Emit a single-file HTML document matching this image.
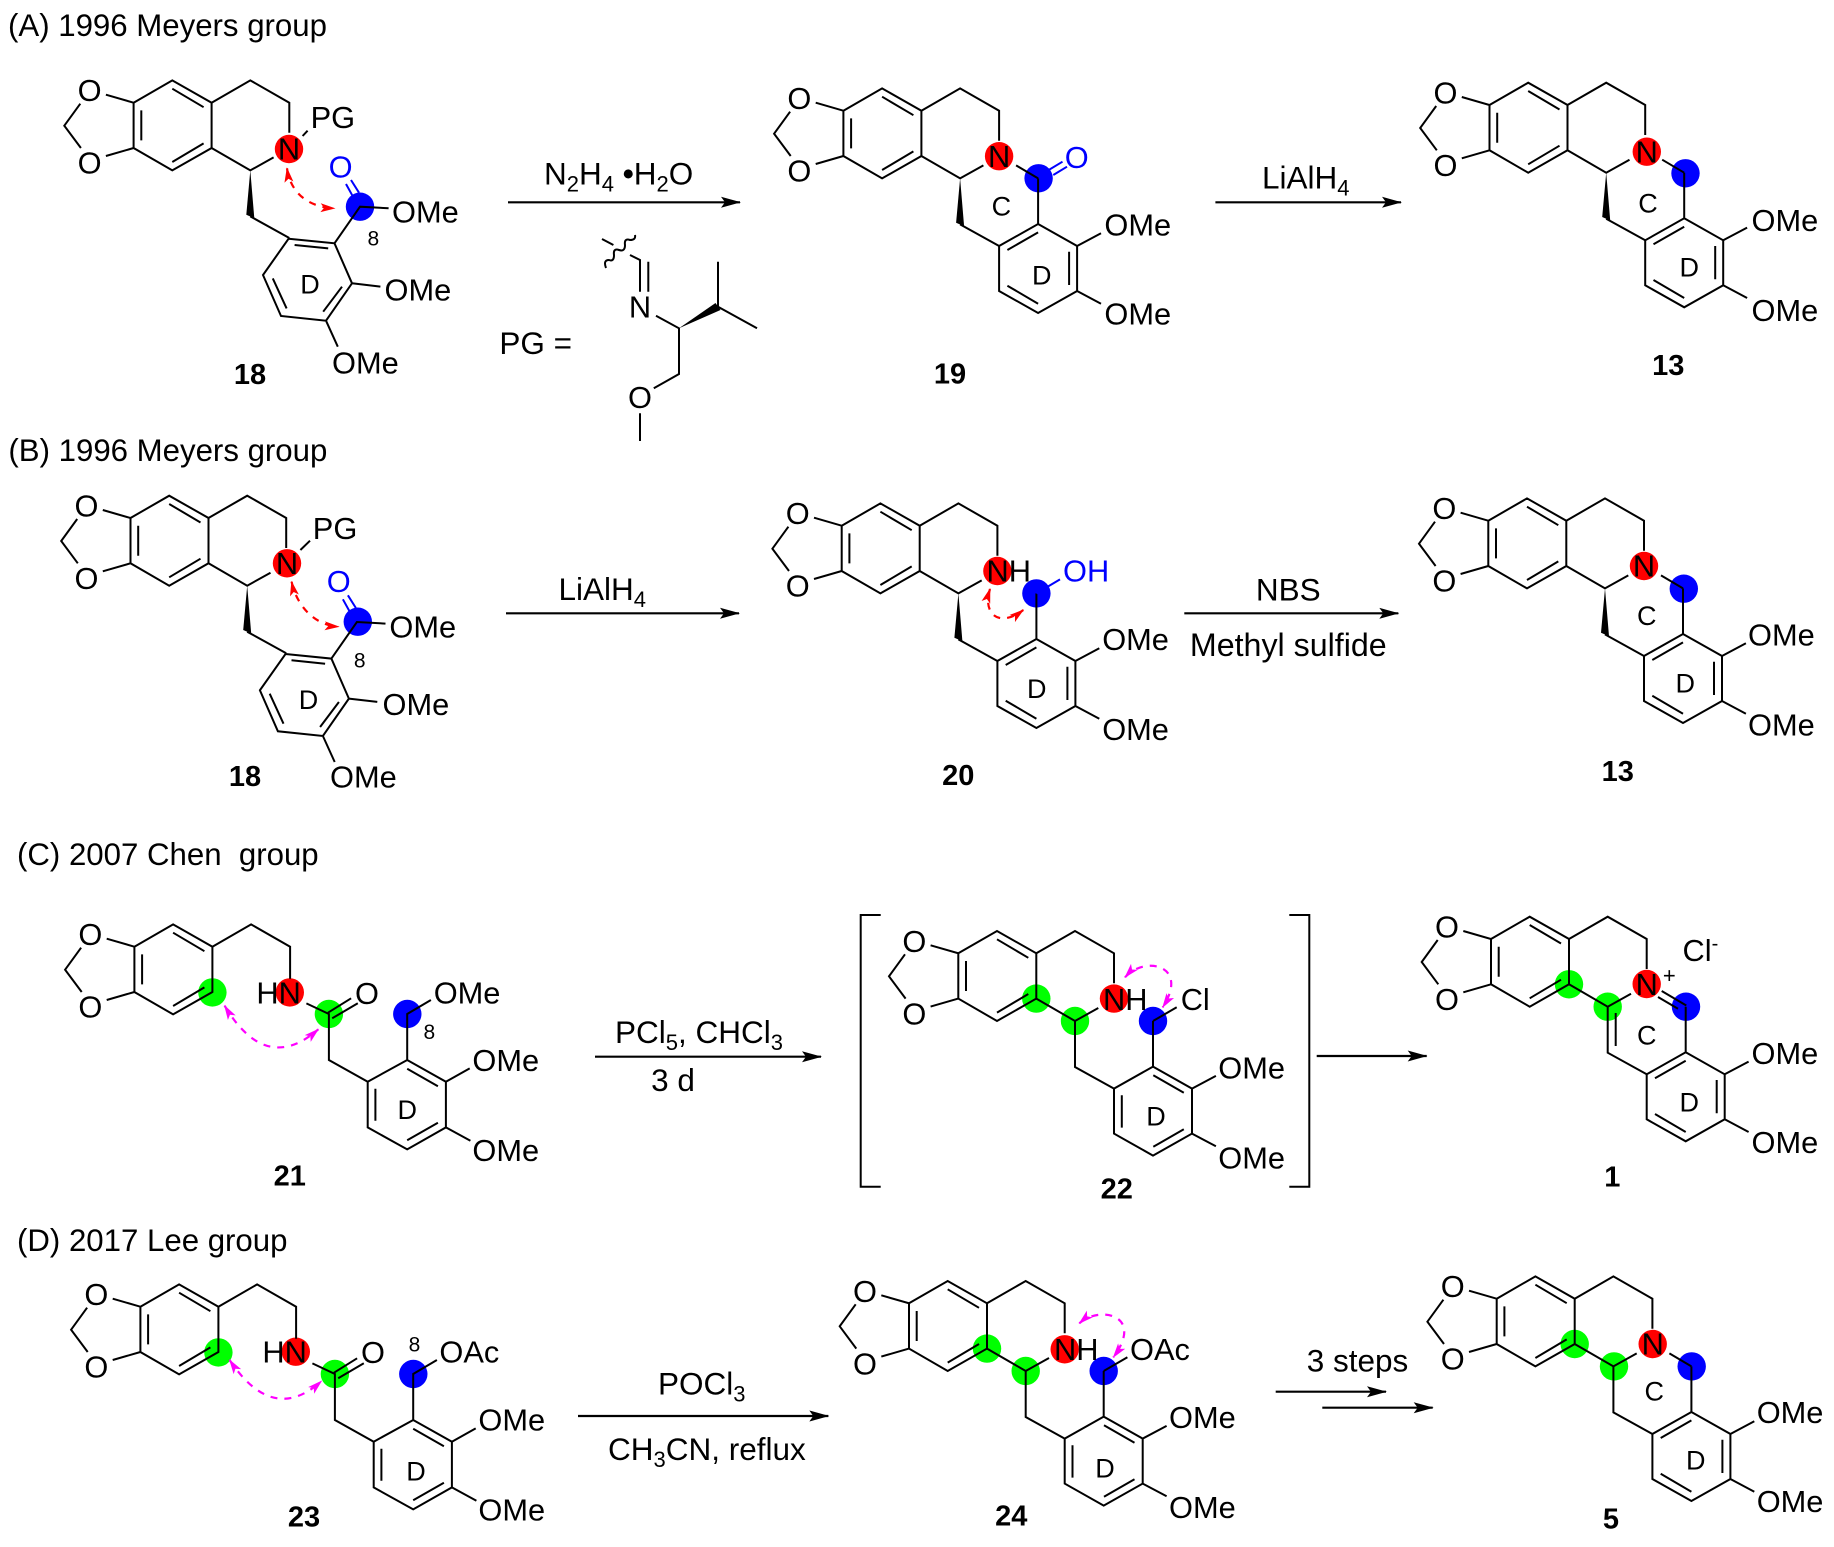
<!DOCTYPE html>
<html><head><meta charset="utf-8"><title>Scheme</title>
<style>
html,body{margin:0;padding:0;background:#fff;width:1834px;height:1547px;overflow:hidden}
svg{display:block}
text{font-family:"Liberation Sans",Arial,sans-serif;font-size:30.8px;fill:#000;white-space:pre}
.c{text-anchor:middle}
.b{font-weight:bold;font-size:29px;text-anchor:middle}
.l{font-size:27px;text-anchor:middle}
.n{font-size:21px;text-anchor:middle}
.t{font-size:31.2px}
.r{font-size:31.5px}
.bl{fill:#00f}
.s{fill:none;stroke:#000;stroke-width:2;stroke-linejoin:miter;stroke-linecap:butt}
.a{fill:none;stroke:#000;stroke-width:2.2}
.rd{fill:none;stroke:#f00;stroke-width:2.2;stroke-dasharray:7 7}
.mg{fill:none;stroke:#f0f;stroke-width:2.2;stroke-dasharray:7 7}
</style></head><body>
<svg xmlns="http://www.w3.org/2000/svg" width="1834" height="1547" viewBox="0 0 1834 1547">
<defs>
<marker id="ah" markerUnits="userSpaceOnUse" markerWidth="20" markerHeight="12" refX="19" refY="6" orient="auto"><path d="M0,0.5 L20,6 L0,11.5 L4,6 Z" fill="#000"/></marker>
<marker id="hr" markerUnits="userSpaceOnUse" markerWidth="15" markerHeight="11" refX="14" refY="5.5" orient="auto-start-reverse"><path d="M0,1 L15,5.5 L0,10 L3.5,5.5 Z" fill="#f00"/></marker>
<marker id="hm" markerUnits="userSpaceOnUse" markerWidth="15" markerHeight="11" refX="14" refY="5.5" orient="auto-start-reverse"><path d="M0,1 L15,5.5 L0,10 L3.5,5.5 Z" fill="#f0f"/></marker>
<g id="benzo" class="s"><path class="s" d="M-53.3,1 L-69.3,23 L-52.7,45.3 M-27.7,-8 L0,0 L0,45.3 L38.7,67.7 L78,45.3 L78,0 L38.7,-22.3 L0,0 M-27.7,53.3 L0,45.3 M7.7,7.7 L7.7,37.7 M38.7,-14 L70,4.5 M38.7,59.3 L70,40.7"/></g>
<path id="closed" class="s" d="M78,0 L116.7,-22.3 L155.7,0 L155.7,30 M78,45.3 L116.7,67.7 L140,54.7"/>
<path id="open" class="s" d="M78,0 L116.7,-22.3 L155.7,0 L155.7,32"/>
<g id="wedge"><polygon points="116.7,67.7 112.7,112 120.7,115.5" fill="#000"/><path class="s" d="M116.7,113.7 L155.7,135.3"/></g>
<path id="plain" class="s" d="M116.7,67.7 L116.7,113.7 L155.7,135.3"/>
<path id="d13" class="s" d="M194.7,67.7 L194.7,113.3 M194.7,113.3 L233.7,135.3 L233.7,180.3 L194.7,202.3 L155.7,180.3 L155.7,135.3 Z M194.7,121.7 L164,139.3 M225.7,141 L225.7,174.3 M164,175 L194.7,193 M233.7,135.3 L257.6,122.6 M233.7,180.3 L257.6,193"/>
<path id="d22" class="s" d="M194.7,67.7 L194.7,113.3 M194.7,113.3 L233.7,135.3 L233.7,180.3 L194.7,202.3 L155.7,180.3 L155.7,135.3 Z M195,122 L225.5,139.5 M163.5,142 L163.5,174.3 M195,193.5 L225.5,176 M233.7,135.3 L257.6,122.6 M233.7,180.3 L257.6,193"/>
<path id="d18" class="s" d="M155,136 L200.9,140.6 L218.4,180.6 L192.4,218 L147.4,213.3 L129.4,172.3 Z M161,142.3 L194.6,145.7 M208.4,184 L189.6,209 M153,205.7 L139.2,175.7 M200.9,140.6 L226.4,104 L255,105.6 M218.4,180.6 L246.8,183.9 M192.4,218 L204.2,244"/>
<path id="d21" class="s" d="M172,56.7 L194.5,67.3 L194.5,113.3 L233.3,135 L233.3,180.7 L272.8,202.7 L311.5,180.7 L311.5,135 L272.8,113.3 L233.3,135 M272.8,122 L303.5,139.5 M241,142 L241,174 M272.8,193.5 L303.5,176 M272.8,113.3 L272.8,67.3 L296.5,53.3 M311.5,135 L335.3,121.7 M311.5,180.7 L336,194 M193.6,66 L216.7,51.6 M197.8,71.6 L223.4,56.6"/>
</defs>
<rect width="1834" height="1547" fill="#fff"/>

<!-- titles -->
<text class="t" x="8" y="36">(A) 1996 Meyers group</text>
<text class="t" x="8.4" y="461">(B) 1996 Meyers group</text>
<text class="t" x="17" y="865">(C) 2007 Chen  group</text>
<text class="t" x="17" y="1251">(D) 2017 Lee group</text>

<!-- A18 -->
<g transform="translate(133.6,102.7)">
<circle cx="155.4" cy="46.3" r="14.2" fill="#f00"/><circle cx="226.4" cy="104" r="14.2" fill="#00f"/>
<use href="#benzo"/><use href="#closed"/><use href="#wedge"/><use href="#d18"/>
<path class="s" d="M169,33.3 L174,28"/>
<path d="M212.4,81.3 L219.4,94 M217.4,77.3 L225.4,90" fill="none" stroke="#00f" stroke-width="2"/>
<text class="c" x="-44" y="-1.5">O</text><text class="c" x="-44" y="71">O</text>
<text class="c" x="155.4" y="57">N</text><text x="177" y="25.5">PG</text>
<text class="c bl" x="207" y="75">O</text>
<text x="258.4" y="120">OMe</text><text x="250.9" y="197.6">OMe</text><text x="198.4" y="270.8">OMe</text>
<text class="l" x="176.4" y="190.8">D</text><text class="n" x="239.7" y="143">8</text>
</g>
<path class="rd" d="M287,168.3 C290,190 305,207 334.5,208.3" marker-start="url(#hr)" marker-end="url(#hr)"/>
<text class="b" x="250" y="384">18</text>

<!-- arrow A1 -->
<text class="r" x="544" y="184.3">N<tspan font-size="22" dy="7">2</tspan><tspan dy="-7">H</tspan><tspan font-size="22" dy="7">4</tspan><tspan dy="-7"> </tspan><tspan font-weight="bold">•</tspan>H<tspan font-size="22" dy="7">2</tspan><tspan dy="-7">O</tspan></text>
<path class="a" d="M508,202.3 L740,202.3" marker-end="url(#ah)"/>
<text class="r" x="499.4" y="354">PG =</text>
<path class="s" d="M602,239 L613.4,245 M606,268 q-3,-8 3,-8 q5,2 5,-5 q-1,-7 5,-5 q6,2 6,-5 q-1,-7 5,-5 q6,0 5,-5 M630,255 L640,260 L640,291.7 M648.3,261.7 L648.3,291.7 M656,315.7 L679,328.3 L679,374 L653.8,388.3 M718,306.7 L718,261.7 M718,306.7 L757,328.3 M640,413.3 L640,441"/>
<polygon points="679,328.3 715.5,303 720.5,310" fill="#000"/>
<text class="c" x="640" y="317.5">N</text><text class="c" x="640" y="408">O</text>

<!-- A19 -->
<g transform="translate(843.4,110.7)">
<circle cx="155.7" cy="45.5" r="14.2" fill="#f00"/><circle cx="195.2" cy="67.6" r="14.2" fill="#00f"/>
<use href="#benzo"/><use href="#closed"/><use href="#wedge"/><use href="#d13"/>
<path class="s" d="M172.7,54.7 L194.7,67.7"/>
<text class="c" x="-44" y="-1.5">O</text><text class="c" x="-44" y="71">O</text>
<text class="c" x="155.7" y="56.5">N</text>
<text x="261" y="124.8">OMe</text><text x="261" y="214">OMe</text>
<text class="l" x="158" y="105">C</text><text class="l" x="198.4" y="174">D</text>
</g>
<path d="M1053.3,175 L1067,166.7 M1048.7,170 L1062.5,161.7" fill="none" stroke="#00f" stroke-width="2"/>
<text class="c bl" x="1076.7" y="168">O</text>
<text class="b" x="950" y="383.5">19</text>

<!-- arrow A2 -->
<text class="r" x="1262" y="188.3">LiAlH<tspan font-size="22" dy="7">4</tspan></text>
<path class="a" d="M1215.4,202.3 L1401,202.3" marker-end="url(#ah)"/>

<!-- A13 -->
<g transform="translate(1489.5,105)">
<circle cx="157.3" cy="46.7" r="14.2" fill="#f00"/><circle cx="196" cy="68.3" r="14.2" fill="#00f"/>
<use href="#benzo"/><use href="#closed"/><use href="#wedge"/><use href="#d13"/>
<path class="s" d="M172.7,54.7 L194.7,67.7"/>
<text class="c" x="-44" y="-1.5">O</text><text class="c" x="-44" y="71">O</text>
<text class="c" x="157.3" y="57.5">N</text>
<text x="262" y="125.8">OMe</text><text x="262" y="215.8">OMe</text>
<text class="l" x="158.5" y="107.4">C</text><text class="l" x="199.8" y="171.4">D</text>
</g>
<text class="b" x="1668.3" y="375">13</text>

<!-- B18 -->
<g transform="translate(130.5,518)">
<circle cx="156.5" cy="45.3" r="14.2" fill="#f00"/><circle cx="227.3" cy="103.7" r="14.2" fill="#00f"/>
<use href="#benzo"/><use href="#closed"/><use href="#wedge"/><use href="#d18"/>
<path class="s" d="M169.9,32 L179.5,22.7"/>
<path d="M212.4,81.3 L219.4,94 M217.4,77.3 L225.4,90" fill="none" stroke="#00f" stroke-width="2"/>
<text class="c" x="-44" y="-1.5">O</text><text class="c" x="-44" y="71">O</text>
<text class="c" x="156.5" y="56">N</text><text x="182.3" y="21">PG</text>
<text class="c bl" x="208.2" y="73.8">O</text>
<text x="258.9" y="119.5">OMe</text><text x="252" y="196.8">OMe</text><text x="199.5" y="269.5">OMe</text>
<text class="l" x="178" y="191">D</text>
</g>
<path class="rd" d="M291.6,581.7 C296,603 312,625 338.7,626.7" marker-start="url(#hr)" marker-end="url(#hr)"/>
<text class="n" x="359.7" y="667.5">8</text>
<text class="b" x="245" y="786">18</text>

<!-- B arrow 1 -->
<text class="r" x="558.5" y="600">LiAlH<tspan font-size="22" dy="7">4</tspan></text>
<path class="a" d="M506,613.3 L739,613.3" marker-end="url(#ah)"/>

<!-- 20 -->
<g transform="translate(841.7,525.7)">
<circle cx="155.7" cy="45.3" r="14.2" fill="#f00"/><circle cx="194.7" cy="67.7" r="14.2" fill="#00f"/>
<use href="#benzo"/><use href="#closed"/><use href="#wedge"/><use href="#d13"/>
<path d="M194.7,67.7 L218.3,53.7" fill="none" stroke="#00f" stroke-width="2"/>
<text class="c" x="-44" y="-1.5">O</text><text class="c" x="-44" y="71">O</text>
<text x="260.5" y="124.4">OMe</text><text x="260.5" y="214.4">OMe</text>
<text class="l" x="195" y="172.3">D</text>
</g>
<path class="rd" d="M990,589 C982,615 1000,628 1023.3,610" marker-start="url(#hr)" marker-end="url(#hr)"/>
<text x="986.5" y="581.7">NH</text>
<text class="bl" x="1063" y="581.7">OH</text>
<text class="b" x="958.3" y="785">20</text>

<!-- B arrow 2 -->
<text class="c r" x="1288.3" y="600.7">NBS</text>
<path class="a" d="M1184.3,613.3 L1398.3,613.3" marker-end="url(#ah)"/>
<text class="c r" x="1288.3" y="656" style="font-size:32.2px">Methyl sulfide</text>

<!-- B13 -->
<g transform="translate(1488.3,520.7)">
<circle cx="155.7" cy="45.3" r="14.2" fill="#f00"/><circle cx="195.5" cy="68" r="14.2" fill="#00f"/>
<use href="#benzo"/><use href="#closed"/><use href="#wedge"/><use href="#d13"/>
<path class="s" d="M172.7,54.7 L194.7,67.7"/>
<text class="c" x="-44" y="-1.5">O</text><text class="c" x="-44" y="71">O</text>
<text class="c" x="155.7" y="56">N</text>
<text x="259.7" y="124.7">OMe</text><text x="259.7" y="214.7">OMe</text>
<text class="l" x="158.5" y="104.2">C</text><text class="l" x="197" y="171.7">D</text>
</g>
<text class="b" x="1617.7" y="781">13</text>

<!-- 21 -->
<g transform="translate(134.4,946.7)">
<circle cx="78" cy="45.7" r="14.2" fill="#0f0"/><circle cx="155.4" cy="45.7" r="14.2" fill="#f00"/>
<circle cx="194.5" cy="67.3" r="14.2" fill="#0f0"/><circle cx="272.9" cy="67.3" r="14.2" fill="#00f"/>
<use href="#benzo"/><use href="#open"/><use href="#d21"/>
<text class="c" x="-44" y="-1.5">O</text><text class="c" x="-44" y="71">O</text>
<text x="122" y="56.6">HN</text><text class="c" x="232.6" y="57.3">O</text>
<text x="299.3" y="56.8">OMe</text><text x="338" y="124.1">OMe</text><text x="338" y="214.1">OMe</text>
<text class="l" x="272.9" y="172.3">D</text><text class="n" x="295" y="92.5">8</text>
</g>
<path class="mg" d="M224.6,1005.7 Q266,1075 318.3,1029.3" marker-start="url(#hm)" marker-end="url(#hm)"/>
<text class="b" x="289.8" y="1185.7">21</text>

<!-- C arrow 1 -->
<text class="r" x="615" y="1043">PCl<tspan font-size="22" dy="7">5</tspan><tspan dy="-7">, CHCl</tspan><tspan font-size="22" dy="7">3</tspan></text>
<path class="a" d="M595,1056.7 L821,1056.7" marker-end="url(#ah)"/>
<text class="c r" x="673" y="1091">3 d</text>

<!-- brackets -->
<path class="s" d="M880.7,915 L860.7,915 L860.7,1186.7 L880.7,1186.7 M1289.3,915 L1309.3,915 L1309.3,1186.7 L1289.3,1186.7"/>

<!-- 22 -->
<g transform="translate(958.3,953.3)">
<circle cx="78" cy="45.3" r="14.2" fill="#0f0"/><circle cx="116.7" cy="67.7" r="14.2" fill="#0f0"/>
<circle cx="155.7" cy="45.3" r="14.2" fill="#f00"/><circle cx="194.7" cy="67.7" r="14.2" fill="#00f"/>
<use href="#benzo"/><use href="#closed"/><use href="#plain"/><use href="#d22"/>
<path class="s" d="M194.7,67.7 L218.4,54"/>
<text class="c" x="-44" y="-1.5">O</text><text class="c" x="-44" y="71">O</text>
<text x="260" y="125">OMe</text><text x="260" y="215">OMe</text>
<text class="l" x="197.7" y="172.4">D</text>
</g>
<path class="mg" d="M1125,977.3 C1145,955 1190,965 1162.7,1007.3" marker-start="url(#hm)" marker-end="url(#hm)"/>
<text x="1103" y="1010">NH</text><text x="1180.7" y="1010">Cl</text>
<text class="b" x="1116.7" y="1198.3">22</text>

<!-- C arrow 2 -->
<path class="a" d="M1316.7,1056 L1426.7,1056" marker-end="url(#ah)"/>

<!-- 1 -->
<g transform="translate(1491,939)">
<circle cx="78" cy="45.3" r="14.2" fill="#0f0"/><circle cx="116.7" cy="67.7" r="14.2" fill="#0f0"/>
<circle cx="155.7" cy="45" r="14.2" fill="#f00"/><circle cx="195" cy="67.7" r="14.2" fill="#00f"/>
<use href="#benzo"/><use href="#closed"/><use href="#d13"/>
<path class="s" d="M116.7,67.7 L116.7,113.7 L155.7,135.3 M124.7,74 L124.7,107 M170.7,52 L195.3,66.5 M167,58 L187,69.7"/>
<text class="c" x="-44" y="-1.5">O</text><text class="c" x="-44" y="71">O</text>
<text class="c" x="155.7" y="56">N</text>
<text x="260.5" y="125">OMe</text><text x="260.5" y="214">OMe</text>
<text class="l" x="155.7" y="105.7">C</text><text class="l" x="198.3" y="172.4">D</text>
</g>
<text class="n" x="1669.3" y="983" style="font-size:22px">+</text>
<text x="1682.5" y="961">Cl<tspan font-size="20" dy="-11">-</tspan></text>
<text class="b" x="1612.3" y="1186.7">1</text>

<!-- 23 -->
<g transform="translate(140.4,1306.7)">
<circle cx="78" cy="45.7" r="14.2" fill="#0f0"/><circle cx="155.4" cy="45" r="14.2" fill="#f00"/>
<circle cx="194.5" cy="67.3" r="14.2" fill="#0f0"/><circle cx="272.9" cy="67.3" r="14.2" fill="#00f"/>
<use href="#benzo"/><use href="#open"/><use href="#d21"/>
<text class="c" x="-44" y="-1.5">O</text><text class="c" x="-44" y="71">O</text>
<text x="122" y="56">HN</text><text class="c" x="232.6" y="56.4">O</text>
<text x="299" y="56">OAc</text><text x="338" y="123.6">OMe</text><text x="338" y="213.6">OMe</text>
<text class="l" x="275.6" y="173.7">D</text><text class="n" x="274.1" y="45">8</text>
</g>
<path class="mg" d="M229.6,1360 Q273,1425 321.5,1381" marker-start="url(#hm)" marker-end="url(#hm)"/>
<text class="b" x="304" y="1526.7">23</text>

<!-- D arrow 1 -->
<text class="r" x="658" y="1394.5">POCl<tspan font-size="22" dy="7">3</tspan></text>
<path class="a" d="M578,1416 L828.3,1416" marker-end="url(#ah)"/>
<text class="r" x="608" y="1460">CH<tspan font-size="22" dy="7">3</tspan><tspan dy="-7">CN, reflux</tspan></text>

<!-- 24 -->
<g transform="translate(909,1303.3)">
<circle cx="78" cy="45.3" r="14.2" fill="#0f0"/><circle cx="116.7" cy="67.7" r="14.2" fill="#0f0"/>
<circle cx="155.7" cy="46" r="14.2" fill="#f00"/><circle cx="194.7" cy="67.7" r="14.2" fill="#00f"/>
<use href="#benzo"/><use href="#closed"/><use href="#plain"/><use href="#d22"/>
<path class="s" d="M194.7,67.7 L218.4,54"/>
<text class="c" x="-44" y="-1.5">O</text><text class="c" x="-44" y="71">O</text>
<text x="260" y="124.7">OMe</text><text x="260" y="214.7">OMe</text>
<text class="l" x="196" y="174">D</text>
</g>
<path class="mg" d="M1079.3,1323.3 C1100,1305 1145,1315 1113.3,1357.3" marker-start="url(#hm)" marker-end="url(#hm)"/>
<text x="1054" y="1360">NH</text><text x="1130" y="1360">OAc</text>
<text class="b" x="1011.3" y="1525.7">24</text>

<!-- D arrow 2 -->
<text class="r" x="1306.7" y="1371.7">3 steps</text>
<path class="a" d="M1275.7,1391.7 L1386,1391.7" marker-end="url(#ah)"/>
<path class="a" d="M1322.3,1407.7 L1432.7,1407.7" marker-end="url(#ah)"/>

<!-- 5 -->
<g transform="translate(1496.7,1298.7)">
<circle cx="78" cy="45.3" r="14.2" fill="#0f0"/><circle cx="117.3" cy="67.7" r="14.2" fill="#0f0"/>
<circle cx="156" cy="45.3" r="14.2" fill="#f00"/><circle cx="195" cy="67.7" r="14.2" fill="#00f"/>
<use href="#benzo"/><use href="#closed"/><use href="#plain"/><use href="#d13"/>
<path class="s" d="M172.7,54.7 L194.7,67.7"/>
<text class="c" x="-44" y="-1.5">O</text><text class="c" x="-44" y="71">O</text>
<text class="c" x="156" y="56">N</text>
<text x="260" y="124.5">OMe</text><text x="260" y="213.5">OMe</text>
<text class="l" x="157.6" y="101.7">C</text><text class="l" x="199" y="171">D</text>
</g>
<text class="b" x="1611" y="1528.3">5</text>
</svg>
</body></html>
